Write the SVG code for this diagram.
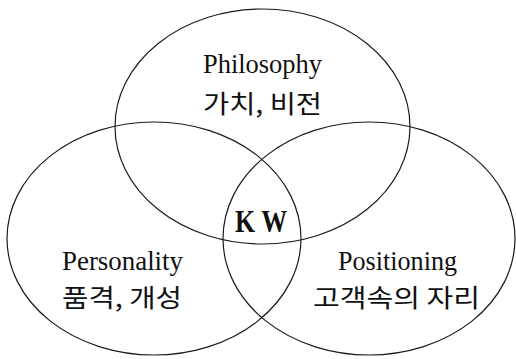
<svg xmlns="http://www.w3.org/2000/svg" width="516" height="359" viewBox="0 0 516 359">
<style>
.c{fill:none;stroke:#1a1a1a;stroke-width:1.2}
.en{font-family:"Liberation Serif","Times New Roman",serif;font-size:27px;fill:#111}
.ko{font-family:"Noto Sans CJK KR","Noto Sans",sans-serif;font-size:25px;fill:#111}
.kw{font-family:"Liberation Serif","Times New Roman",serif;font-size:32px;font-weight:bold;fill:#111}
</style>
<rect width="516" height="359" fill="#fff"/>
<g id="philosophy">
<ellipse class="c" cx="262.5" cy="126.5" rx="147.5" ry="117.5"/>
<text class="en" x="262.5" y="73" text-anchor="middle" textLength="119" lengthAdjust="spacingAndGlyphs">Philosophy</text>
<text class="ko" x="262.5" y="113" text-anchor="middle" textLength="119" lengthAdjust="spacingAndGlyphs">가치, 비전</text>
</g>
<g id="personality">
<ellipse class="c" cx="154" cy="238.5" rx="147" ry="116.5"/>
<text class="en" x="122.5" y="270" text-anchor="middle" textLength="121" lengthAdjust="spacingAndGlyphs">Personality</text>
<text class="ko" x="122" y="307" text-anchor="middle" textLength="120" lengthAdjust="spacingAndGlyphs">품격, 개성</text>
</g>
<g id="positioning">
<ellipse class="c" cx="369" cy="238.5" rx="146" ry="116.5"/>
<text class="en" x="397.5" y="270" text-anchor="middle" textLength="119" lengthAdjust="spacingAndGlyphs">Positioning</text>
<text class="ko" x="396.5" y="307" text-anchor="middle" textLength="167" lengthAdjust="spacingAndGlyphs">고객속의 자리</text>
</g>
<g id="kw">
<text class="kw" x="261" y="232" text-anchor="middle" textLength="52" lengthAdjust="spacingAndGlyphs">K W</text>
</g>
<g id="connectors"/>
</svg>
